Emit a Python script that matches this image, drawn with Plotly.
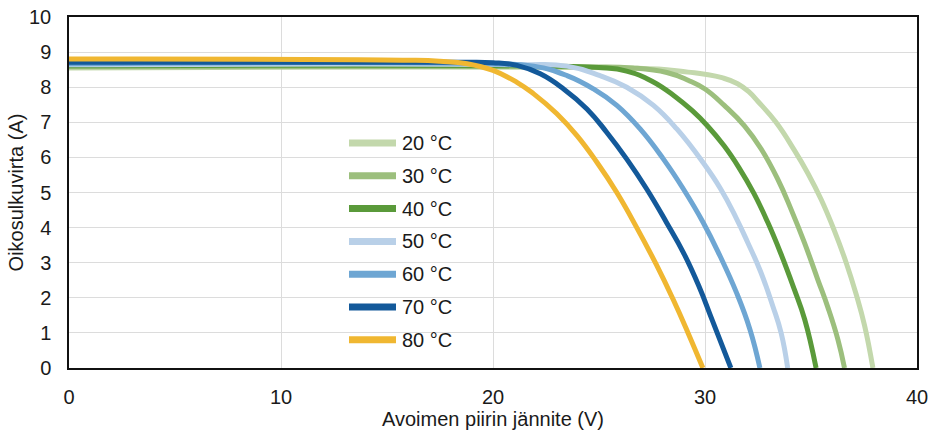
import plotly.graph_objects as go

# Current–voltage curves of a PV module at different cell temperatures
labels = ["20 °C", "30 °C", "40 °C", "50 °C", "60 °C", "70 °C", "80 °C"]
colors = ["#c3d8ac", "#9cbf7d", "#5a9a3a", "#b9d0e8", "#6ea6d3", "#13599a", "#f0b731"]

v_20 = [0, 26, 28.2, 29.2, 30, 30.8, 31.54, 32.1, 32.49, 33.35, 34.22, 34.85, 35.48, 36.11, 36.66, 37.13, 37.53, 37.92]
i_20 = [8.55, 8.55, 8.5, 8.43, 8.37, 8.27, 8.1, 7.85, 7.6, 7.0, 6.2, 5.55, 4.8, 3.9, 3.0, 2.1, 1.2, 0]

v_30 = [0, 24, 26.6, 28.2, 29.2, 30, 30.91, 31.86, 32.65, 33.43, 34.06, 34.69, 35.32, 35.8, 36.27, 36.58]
i_30 = [8.58, 8.58, 8.55, 8.42, 8.2, 7.95, 7.48, 6.9, 6.24, 5.38, 4.52, 3.57, 2.52, 1.72, 0.81, 0]

v_40 = [0, 23, 25, 26.3, 27.5, 28.6, 29.4, 30.1, 30.9, 31.6, 32.3, 32.96, 33.59, 34.2, 34.7, 35.24]
i_40 = [8.61, 8.6, 8.56, 8.46, 8.17, 7.73, 7.33, 6.91, 6.33, 5.71, 4.98, 4.15, 3.24, 2.26, 1.39, 0]

v_50 = [0, 21, 23.49, 25.05, 26.31, 27.57, 28.67, 29.9, 30.74, 31.45, 32.02, 32.62, 33.2, 33.59, 33.9]
i_50 = [8.64, 8.64, 8.6, 8.33, 8.0, 7.48, 6.81, 5.86, 5.1, 4.3, 3.57, 2.75, 1.76, 1.0, 0]

v_60 = [0, 19.5, 21.92, 23.49, 24.74, 25.84, 26.94, 28.04, 28.98, 29.92, 30.71, 31.49, 32.12, 32.59]
i_60 = [8.67, 8.67, 8.6, 8.33, 7.95, 7.48, 6.81, 5.95, 5.1, 4.14, 3.19, 2.14, 1.1, 0]

v_70 = [0, 18, 20, 21.13, 22.23, 23.33, 24.43, 25.37, 26.31, 27.25, 28.19, 28.98, 29.7, 30.35, 31.22]
i_70 = [8.71, 8.71, 8.7, 8.62, 8.38, 7.95, 7.38, 6.71, 5.95, 5.1, 4.14, 3.29, 2.35, 1.35, 0]

v_80 = [0, 16, 17.5, 18.78, 20, 21.13, 21.92, 23.0, 23.96, 24.9, 25.84, 26.78, 27.7, 28.5, 29.2, 29.9]
i_80 = [8.8, 8.77, 8.74, 8.67, 8.48, 8.14, 7.81, 7.25, 6.62, 5.86, 5.0, 4.0, 2.95, 1.95, 1.0, 0]

voltages = [v_20, v_30, v_40, v_50, v_60, v_70, v_80]
currents = [i_20, i_30, i_40, i_50, i_60, i_70, i_80]

x_ticks = [0, 10, 20, 30, 40]
y_ticks = list(range(0, 11))

FONT = "Liberation Sans, Arial, sans-serif"
TEXT = "#1a1a1a"

fig = go.Figure()
for name, col, v, i in zip(labels, colors, voltages, currents):
    fig.add_trace(go.Scatter(
        x=v, y=i, mode="lines", name=name,
        line=dict(color=col, width=5, shape="spline", smoothing=1.3),
        showlegend=False,
    ))

# Legend drawn as swatches + labels inside the plot area
W, H = 933, 432
ml, mr, mt, mb = 69, 16, 17, 64
pw, ph = W - ml - mr, H - mt - mb


def px_x(p):
    return (p - ml) / pw


def px_y(p):
    return (H - mb - p) / ph


first_y, step = 143, 32.8
fig.add_shape(type="rect", xref="paper", yref="paper",
              x0=px_x(336), x1=px_x(462), y0=px_y(first_y + step * 6 + 18), y1=px_y(first_y - 20),
              fillcolor="white", line=dict(width=0), layer="below")
for k, (name, col) in enumerate(zip(labels, colors)):
    yc = px_y(first_y + step * k)
    fig.add_shape(type="line", xref="paper", yref="paper",
                  x0=px_x(349), x1=px_x(396), y0=yc, y1=yc,
                  line=dict(color=col, width=7))
    fig.add_annotation(xref="paper", yref="paper", x=px_x(400), y=yc,
                       text=name, showarrow=False, xanchor="left", yanchor="middle",
                       font=dict(family=FONT, size=20, color=TEXT))

axis_common = dict(
    showgrid=True, gridcolor="#dcdcdc", gridwidth=1,
    showline=True, linecolor="#111111", mirror=True,
    zeroline=False, ticks="", automargin=False,
    tickfont=dict(family=FONT, size=20, color=TEXT),
)

fig.update_layout(
    width=W, height=H, autosize=False,
    margin=dict(l=ml, r=mr, t=mt, b=mb),
    plot_bgcolor="white", paper_bgcolor="white",
    xaxis=dict(range=[0, 40], tickvals=x_ticks, linewidth=2,
               ticklabelstandoff=10,
               title=dict(text="Avoimen piirin jännite (V)", standoff=4,
                          font=dict(family=FONT, size=20, color=TEXT)),
               **axis_common),
    yaxis=dict(range=[0, 10], tickvals=y_ticks, linewidth=1.5,
               ticklabelstandoff=12,
               title=dict(text="Oikosulkuvirta (A)", standoff=0,
                          font=dict(family=FONT, size=20, color=TEXT)),
               **axis_common),
)

fig.write_html("out.html")
